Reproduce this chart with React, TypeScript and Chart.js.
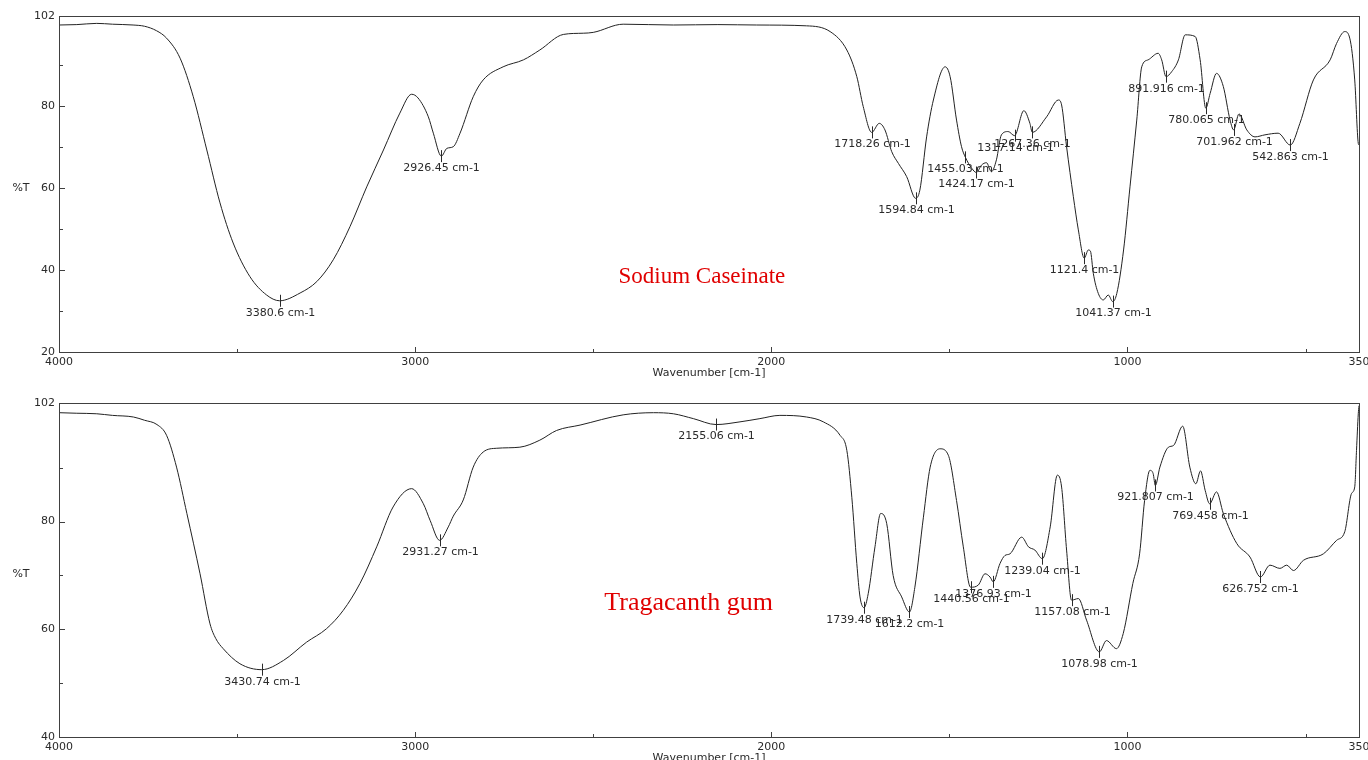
import React, { useEffect, useRef } from 'react';
import { Chart, registerables } from 'chart.js';

Chart.register(...registerables);

// ---------- Sodium Caseinate spectrum ----------
const caseinWavenumbers = [
  4000, 3950, 3894, 3850, 3792, 3760, 3726, 3698, 3660, 3623, 3585, 3548, 3511, 3464, 3417, 3380.6,
  3323, 3276, 3230, 3183, 3136, 3089, 3043, 3010, 2992, 2963, 2949, 2926.45, 2911, 2893, 2874, 2837,
  2809, 2753, 2696, 2650, 2584, 2528, 2500, 2416, 2275, 2150, 2041, 1901, 1835, 1788, 1760, 1742,
  1718.26, 1697, 1681, 1662, 1643, 1620, 1594.84, 1583, 1564, 1545, 1512, 1498, 1480, 1466, 1455.03,
  1437, 1424.17, 1410, 1396, 1382, 1368, 1354, 1335, 1317.14, 1291, 1274, 1267.36, 1227, 1194, 1185,
  1171, 1152, 1138, 1121.4, 1110, 1104, 1096, 1082, 1068, 1054, 1041.37, 1030, 1011, 993, 974, 960,
  942, 914, 904, 891.916, 876, 857, 838, 810, 796, 780.065, 768, 750, 731, 712, 701.962, 687, 665,
  642, 614, 577, 542.863, 516, 478, 431, 413, 390, 376, 362, 352, 350,
];
const caseinTransmittance = [
  99.8, 99.9, 100.2, 100.0, 99.8, 99.5, 98.4, 96.6, 91.7, 82.3, 69.3, 56.4, 46.6, 38.4, 33.9, 32.5,
  34.4, 37.2, 42.5, 50.6, 60.3, 69.3, 78.3, 82.9, 82.0, 77.4, 73.4, 67.8, 69.7, 70.1, 73.4, 82.3,
  86.4, 89.6, 91.3, 93.7, 97.5, 97.8, 98.0, 100.0, 99.8, 99.9, 99.8, 99.6, 98.2, 93.7, 87.2, 79.9,
  73.6, 75.8, 74.2, 68.9, 66.0, 62.8, 57.5, 59.5, 72.5, 81.5, 89.6, 87.2, 76.6, 70.1, 67.5,
  64.8, 63.8, 65.6, 66.2, 64.0, 66.9, 73.0, 73.8, 72.8, 78.9, 75.8, 73.6, 77.4, 81.5, 80.3,
  70.1, 57.9, 49.8, 42.9, 44.9, 44.6, 39.2, 34.3, 32.7, 33.9, 32.3, 34.3, 44.9, 60.3, 76.6, 89.6,
  91.3, 92.9, 91.3, 87.2, 88.4, 91.3, 97.4, 97.0, 91.3, 79.5, 83.1, 88.0, 84.8, 76.6, 74.2, 78.1, 74.2,
  72.5, 73.0, 73.4, 70.5, 75.8, 86.4, 91.3, 95.3, 98.2, 96.6, 86.4, 70.9, 70.5,
];
const caseinPeaks = [
  '3380.6', '2926.45', '1718.26', '1594.84', '1455.03', '1424.17', '1317.14', '1267.36',
  '1121.4', '1041.37', '891.916', '780.065', '701.962', '542.863',
];

// ---------- Tragacanth gum spectrum ----------
const gumWavenumbers = [
  4000, 3950, 3894, 3850, 3791, 3760, 3725, 3698, 3670, 3641, 3604, 3576, 3560, 3539, 3492, 3430.74, 3370,
  3305, 3249, 3202, 3155, 3108, 3062, 3010, 2977, 2958, 2931.27, 2907, 2893, 2865, 2837, 2809, 2771,
  2706, 2650, 2603, 2537, 2416, 2331, 2275, 2219, 2155.06, 2088, 2032, 1976, 1901, 1854, 1807, 1788,
  1774, 1760, 1751, 1739.48, 1728, 1709, 1693, 1676, 1658, 1634, 1612.2, 1597, 1573, 1554, 1526,
  1503, 1480, 1461, 1440.56, 1419, 1400, 1386, 1376.93, 1358, 1344, 1330, 1297, 1278, 1260, 1239.04,
  1217, 1197, 1185, 1171, 1157.08, 1138, 1115, 1078.98, 1059, 1031, 1012, 985, 966, 952, 937, 928,
  921.807, 909, 885, 871, 845, 825, 808, 795, 782, 769.458, 750, 731, 693, 656, 626.752, 600, 572,
  553, 534, 506, 450, 413, 390, 371, 362, 357, 352, 350,
];
const gumTransmittance = [
  100.2, 100.1, 100.0, 99.7, 99.4, 98.8, 98.0, 96.0, 90.1, 81.5, 70.3, 61.0, 58.3, 56.4, 53.6, 52.5, 54.2,
  57.6, 60.1, 63.5, 68.5, 75.3, 82.7, 86.1, 83.3, 80.2, 76.5, 79.0, 81.0, 84.0, 90.1, 92.9, 93.6,
  93.8, 95.1, 96.9, 97.9, 99.8, 100.2, 100.0, 99.1, 98.0, 98.5, 99.1, 99.7, 99.4, 98.5, 96.0, 93.2,
  84.5, 72.2, 66.0, 64.0, 66.6, 75.3, 81.5, 79.6, 70.0, 66.0, 63.2, 67.8, 80.8, 90.1, 93.5,
  92.3, 83.9, 75.3, 67.8, 68.2, 70.3, 69.7, 68.8, 72.2, 73.7, 74.0, 77.1, 75.3, 74.7, 73.1,
  79.0, 88.6, 86.4, 74.7, 65.4, 65.7, 61.7, 55.8, 57.9, 56.4, 59.2, 68.5, 74.0, 83.9, 89.5, 88.9,
  86.7, 90.1, 93.8, 94.1, 97.7, 90.1, 87.0, 89.4, 85.8, 83.3, 85.5, 81.5, 75.9, 73.4, 69.7, 71.9, 71.3,
  71.9, 70.9, 72.8, 74.0, 76.5, 78.1, 85.2, 86.4, 93.2, 100.0, 101.5,
];
const gumPeaks = [
  '3430.74', '2931.27', '2155.06', '1739.48', '1612.2', '1440.56', '1376.93', '1239.04',
  '1157.08', '1078.98', '921.807', '769.458', '626.752',
];

// ---------- axes ----------
const xMajorTicks = [4000, 3000, 2000, 1000, 350];
const xMinorTicks = [3500, 2500, 1500, 500];
const caseinYTicks = [20, 40, 60, 80, 102];
const caseinYMinor = [30, 50, 70, 90];
const gumYTicks = [40, 60, 80, 102];
const gumYMinor = [50, 70, 90];

const UI_FONT = '"DejaVu Sans", Verdana, sans-serif';
const AXIS_COLOR = '#404040';
const TEXT_COLOR = '#2a2a2a';

function interpolate(wns: number[], ts: number[], w: number): number {
  for (let i = 0; i < wns.length - 1; i++) {
    const a = wns[i];
    const b = wns[i + 1];
    if (w <= a && w >= b) {
      if (a === b) return ts[i];
      const f = (a - w) / (a - b);
      return ts[i] + f * (ts[i + 1] - ts[i]);
    }
  }
  return ts[ts.length - 1];
}

type SpecConfig = {
  wns: number[];
  ts: number[];
  peaks: string[];
  yMin: number;
  yMax: number;
  yTicks: number[];
  yMinor: number[];
  name: string;
  nameFontSize: number;
  nameWn: number;
  nameT: number;
  padTop: number;
  axisHeight: number;
};

function makeDecor(cfg: SpecConfig) {
  return {
    id: 'ftirDecor',
    afterDatasetsDraw(chart: any) {
      const { ctx, chartArea } = chart;
      const xs = chart.scales.x;
      const ys = chart.scales.y;
      const { left, right, top, bottom } = chartArea;
      ctx.save();
      // frame
      ctx.strokeStyle = AXIS_COLOR;
      ctx.lineWidth = 1;
      ctx.strokeRect(Math.round(left) + 0.5, Math.round(top) + 0.5, Math.round(right - left), Math.round(bottom - top));
      // x ticks (inward)
      ctx.beginPath();
      xMajorTicks.forEach((v) => {
        const px = Math.round(xs.getPixelForValue(v)) + 0.5;
        ctx.moveTo(px, bottom);
        ctx.lineTo(px, bottom - 5);
      });
      xMinorTicks.forEach((v) => {
        const px = Math.round(xs.getPixelForValue(v)) + 0.5;
        ctx.moveTo(px, bottom);
        ctx.lineTo(px, bottom - 3);
      });
      cfg.yTicks.forEach((v) => {
        const py = Math.round(ys.getPixelForValue(v)) + 0.5;
        ctx.moveTo(left, py);
        ctx.lineTo(left + 6, py);
      });
      cfg.yMinor.forEach((v) => {
        const py = Math.round(ys.getPixelForValue(v)) + 0.5;
        ctx.moveTo(left, py);
        ctx.lineTo(left + 4, py);
      });
      ctx.stroke();

      // axis titles
      ctx.fillStyle = TEXT_COLOR;
      ctx.font = `11px ${UI_FONT}`;
      ctx.textAlign = 'center';
      ctx.textBaseline = 'middle';
      ctx.fillText('%T', 21, (top + bottom) / 2 + 4);
      ctx.fillText('Wavenumber [cm-1]', (left + right) / 2, bottom + 21);

      // peak markers
      ctx.strokeStyle = '#2a2a2a';
      cfg.peaks.forEach((label) => {
        const w = parseFloat(label);
        const t = interpolate(cfg.wns, cfg.ts, w);
        const px = Math.round(xs.getPixelForValue(w)) + 0.5;
        const py = ys.getPixelForValue(t);
        ctx.beginPath();
        ctx.moveTo(px, py - 6);
        ctx.lineTo(px, py + 6);
        ctx.stroke();
        ctx.fillText(`${label} cm-1`, px, py + 12);
      });

      // sample name
      ctx.fillStyle = '#e00000';
      ctx.font = `${cfg.nameFontSize}px "Liberation Serif", "Times New Roman", serif`;
      ctx.textBaseline = 'alphabetic';
      ctx.fillText(cfg.name, xs.getPixelForValue(cfg.nameWn), ys.getPixelForValue(cfg.nameT));
      ctx.restore();
    },
  };
}

function Spectrum({ cfg }: { cfg: SpecConfig }) {
  const ref = useRef<HTMLCanvasElement | null>(null);
  useEffect(() => {
    if (!ref.current) return;
    const data = cfg.wns.map((w, i) => ({ x: w, y: cfg.ts[i] }));
    const chart = new Chart(ref.current, {
      type: 'line',
      data: {
        datasets: [
          {
            data,
            borderColor: '#222222',
            borderWidth: 1,
            pointRadius: 0,
            cubicInterpolationMode: 'monotone',
            fill: false,
          },
        ],
      },
      options: {
        animation: false,
        responsive: false,
        devicePixelRatio: 1,
        events: [],
        layout: { padding: { left: 0, right: 9, top: cfg.padTop, bottom: 0 } },
        plugins: { legend: { display: false }, tooltip: { enabled: false }, title: { display: false } },
        scales: {
          x: {
            type: 'linear',
            reverse: true,
            min: 350,
            max: 4000,
            grid: { display: false, drawTicks: false },
            border: { display: false },
            ticks: {
              autoSkip: false,
              maxRotation: 0,
              padding: 4,
              color: TEXT_COLOR,
              font: { family: UI_FONT, size: 11 },
              callback: (v: any) => String(v),
            },
            afterBuildTicks: (scale: any) => {
              scale.ticks = xMajorTicks.map((v) => ({ value: v }));
            },
            afterFit: (scale: any) => {
              scale.height = cfg.axisHeight;
              scale.paddingLeft = 0;
              scale.paddingRight = 0;
            },
          },
          y: {
            type: 'linear',
            min: cfg.yMin,
            max: cfg.yMax,
            grid: { display: false, drawTicks: false },
            border: { display: false },
            ticks: {
              autoSkip: false,
              padding: 4,
              color: TEXT_COLOR,
              font: { family: UI_FONT, size: 11 },
              callback: (v: any) => String(v),
            },
            afterBuildTicks: (scale: any) => {
              scale.ticks = cfg.yTicks.map((v) => ({ value: v }));
            },
            afterFit: (scale: any) => {
              scale.width = 59;
              scale.paddingTop = 0;
              scale.paddingBottom = 0;
            },
          },
        },
      } as any,
      plugins: [makeDecor(cfg)],
    });
    return () => chart.destroy();
  }, [cfg]);
  return <canvas ref={ref} width={1368} height={380} style={{ display: 'block', width: 1368, height: 380 }} />;
}

const caseinCfg: SpecConfig = {
  wns: caseinWavenumbers,
  ts: caseinTransmittance,
  peaks: caseinPeaks,
  yMin: 20,
  yMax: 102,
  yTicks: caseinYTicks,
  yMinor: caseinYMinor,
  name: 'Sodium Caseinate',
  nameFontSize: 23,
  nameWn: 2195,
  nameT: 36.8,
  padTop: 16,
  axisHeight: 28,
};

const gumCfg: SpecConfig = {
  wns: gumWavenumbers,
  ts: gumTransmittance,
  peaks: gumPeaks,
  yMin: 40,
  yMax: 102,
  yTicks: gumYTicks,
  yMinor: gumYMinor,
  name: 'Tragacanth gum',
  nameFontSize: 26,
  nameWn: 2232,
  nameT: 63.6,
  padTop: 23,
  axisHeight: 23,
};

export default function App() {
  return (
    <div style={{ position: 'absolute', left: 0, top: 0, width: 1368, height: 760, background: '#fff', overflow: 'hidden' }}>
      <Spectrum cfg={caseinCfg} />
      <Spectrum cfg={gumCfg} />
    </div>
  );
}
